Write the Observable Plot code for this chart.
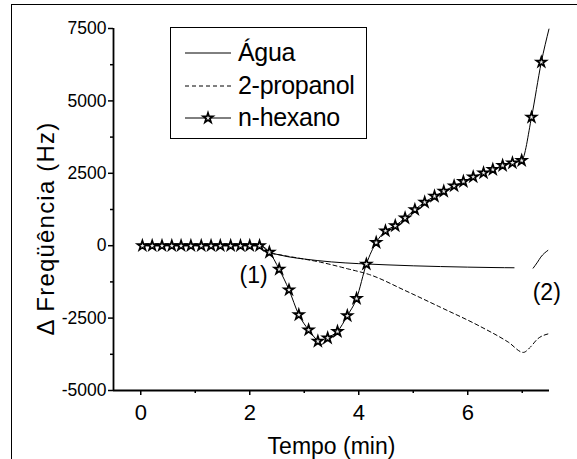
<!DOCTYPE html>
<html><head><meta charset="utf-8">
<script src="https://cdn.jsdelivr.net/npm/d3@7"></script>
<script src="https://cdn.jsdelivr.net/npm/@observablehq/plot@0.6"></script>
<style>
body{margin:0;background:#fff;font-family:"Liberation Sans",Arial,sans-serif;}
#wrap{position:relative;width:577px;height:459px;overflow:hidden;background:#fff;}
#border{position:absolute;left:11px;top:4px;width:600px;height:500px;border-left:1px solid #000;border-top:1px solid #000;pointer-events:none;}
#legend{position:absolute;left:170px;top:27px;width:195px;height:110px;border:1.5px solid #000;background:#fff;}
.row{position:absolute;left:0;height:30px;width:194px;}
.row svg{position:absolute;left:14px;top:0;}
.row span{position:absolute;left:67px;top:0;font-size:25px;line-height:30px;color:#000;white-space:nowrap;letter-spacing:-0.3px;}
svg text[transform*="rotate(-90)"]{letter-spacing:1.2px;}
</style></head>
<body>
<div id="wrap"><div id="chart"></div><div id="legend"></div><div id="border"></div></div>
<script>
// n-hexano markers (time in min, Δf in Hz)
const hexT = [0.03,0.21,0.39,0.57,0.74,0.92,1.11,1.29,1.46,1.65,1.83,2.00,2.18,2.36,2.54,2.72,2.90,3.08,3.25,3.43,3.61,3.79,3.96,4.14,4.32,4.49,4.67,4.85,5.03,5.21,5.39,5.56,5.75,5.92,6.10,6.29,6.46,6.64,6.82,6.99,7.17,7.35];
const hexF = [0,0,0,0,0,0,0,0,0,0,0,0,0,-225,-815,-1524,-2385,-2909,-3300,-3186,-2962,-2419,-1822,-635,110,510,690,956,1247,1499,1707,1880,2064,2216,2376,2514,2632,2770,2860,2943,4433,6337];
// n-hexano continuous trace
const hexLineT = [0.03,2.18,2.36,2.54,2.72,2.90,3.08,3.25,3.31,3.43,3.61,3.79,3.96,4.14,4.32,4.49,4.67,4.85,5.03,5.21,5.39,5.56,5.75,5.92,6.10,6.29,6.46,6.64,6.82,6.99,7.17,7.35,7.49];
const hexLineF = [0,0,-225,-815,-1524,-2385,-2909,-3300,-3418,-3186,-2962,-2419,-1822,-635,110,510,690,956,1247,1499,1707,1880,2064,2216,2376,2514,2632,2770,2860,2943,4433,6337,7480];
// Água
const aguaT = [0,2.2,2.36,2.5,2.7,3.0,3.5,4.0,4.5,5.0,5.5,6.0,6.5,6.85,7.20,7.28,7.34,7.47];
const aguaF = [0,0,-230,-300,-380,-460,-560,-620,-660,-695,-720,-740,-755,-762,-775,-568,-395,-163];
const aguaSeg = [1,1,1,1,1,1,1,1,1,1,1,1,1,1,2,2,2,2];
// 2-propanol
const propT = [0,2.2,2.36,2.6,2.9,3.3,3.8,4.2,4.85,5.5,6.2,6.75,7.02,7.15,7.28,7.47];
const propF = [0,0,-230,-330,-430,-570,-800,-1000,-1548,-2126,-2760,-3338,-3685,-3500,-3221,-3048];
// annotations
const noteText = ["(1)","(2)"];
const noteT = [2.07,7.45];
const noteF = [-1029,-1635];
// axes
const xDomain = [-0.5,7.5];
const yDomain = [-5000,7500];
const xTicks = [0,2,4,6];
const xMinor = [1,3,5,7];
const yTicks = [-5000,-2500,0,2500,5000,7500];
const yMinor = [-3750,-1250,1250,3750,6250];
const xLabel = "Tempo (min)";
const yLabel = "Δ Freqüência (Hz)";
const seriesNames = ["Água","2-propanol","n-hexano"];

const hexPts = hexT.map((t,i)=>({t,f:hexF[i]}));
const hexLine = hexLineT.map((t,i)=>({t,f:hexLineF[i]}));
const agua = aguaT.map((t,i)=>({t,f:aguaF[i],s:aguaSeg[i]}));
const prop = propT.map((t,i)=>({t,f:propF[i]}));
const notes = noteText.map((s,i)=>({s,t:noteT[i],f:noteF[i]}));

const ff = "Liberation Sans, Arial, sans-serif";
const chart = Plot.plot({
  width:577, height:459,
  marginLeft:113, marginRight:28, marginTop:28, marginBottom:69,
  style:{background:"transparent", fontFamily:ff, color:"#000", overflow:"visible"},
  x:{domain:xDomain},
  y:{domain:yDomain},
  marks:[
    Plot.axisY({ticks:yTicks, tickSize:5, tickPadding:2, fontSize:17.5, strokeWidth:1.5, tickFormat:d=>String(d), label:null}),
    Plot.axisY({ticks:yMinor, tickSize:3, strokeWidth:1.5, tickFormat:()=>"", label:null}),
    Plot.axisX({ticks:xTicks, tickSize:5, tickPadding:9, fontSize:22, strokeWidth:1.5, tickFormat:d=>String(d), label:null}),
    Plot.axisX({ticks:xMinor, tickSize:3, strokeWidth:1.5, tickFormat:()=>"", label:null}),
    Plot.ruleX([xDomain[0]], {stroke:"#000", strokeWidth:1.8}),
    Plot.ruleY([yDomain[0]], {stroke:"#000", strokeWidth:1.8}),
    Plot.text([xLabel], {text:d=>d, frameAnchor:"bottom", lineAnchor:"top", dy:47, fontSize:23}),
    Plot.text([yLabel], {text:d=>d, frameAnchor:"left", textAnchor:"middle", rotate:-90, dx:-67, dy:19, fontSize:24}),
    Plot.line(prop, {x:"t", y:"f", stroke:"#000", strokeWidth:1, strokeDasharray:"4,3", curve:"monotone-x"}),
    Plot.line(agua, {x:"t", y:"f", z:"s", stroke:"#000", strokeWidth:1, curve:"monotone-x"}),
    Plot.line(hexLine, {x:"t", y:"f", stroke:"#000", strokeWidth:1, curve:"monotone-x"}),
    Plot.dot(hexPts, {x:"t", y:"f", symbol:"star", r:3.1, fill:"#eee", stroke:"#000", strokeWidth:1.7}),
    Plot.text(notes, {x:"t", y:"f", text:"s", fontSize:23})
  ]
});
document.getElementById("chart").appendChild(chart);

// legend
const leg = document.getElementById("legend");
const rowTops = [9, 42, 74];
const dashes = [null, "4,3", null];
seriesNames.forEach((name,i)=>{
  const row = document.createElement("div");
  row.className = "row";
  row.style.top = rowTops[i] + "px";
  const svg = d3.create("svg").attr("width",46).attr("height",30);
  svg.append("line").attr("x1",0).attr("x2",46).attr("y1",16).attr("y2",16)
    .attr("stroke","#000").attr("stroke-width",1).attr("stroke-dasharray",dashes[i]);
  if (i===2) {
    svg.append("path").attr("d", d3.symbol(d3.symbolStar, 30)()).attr("transform","translate(23,16)")
      .attr("fill","#eee").attr("stroke","#000").attr("stroke-width",1.7);
  }
  row.appendChild(svg.node());
  const sp = document.createElement("span");
  sp.textContent = name;
  row.appendChild(sp);
  leg.appendChild(row);
});
</script>
</body></html>
